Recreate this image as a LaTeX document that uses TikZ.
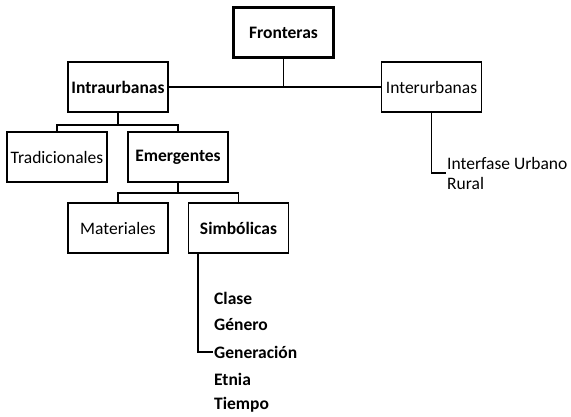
\documentclass[tikz,border=0pt]{standalone}
\usepackage{fontspec}
\setmainfont{Carlito}
\usepackage{tikz}
\usetikzlibrary{calc}

\begin{document}
\begin{tikzpicture}[x=1pt,y=-1pt,
    box/.style={draw,line width=1.4pt,minimum width=100pt,minimum height=50pt,inner sep=1pt,font=\fontsize{17.5}{20}\selectfont},
    bbox/.style={box,font=\fontsize{17.5}{20}\selectfont\bfseries},
    item/.style={anchor=west,inner sep=1pt,font=\fontsize{17.5}{20}\selectfont\bfseries},
    link/.style={line width=1.7pt}]
    \useasboundingbox (0,0) rectangle (571,417);

    % Top level
    \node[bbox,line width=2.8pt] (front) at (283.5,32.5) {Fronteras};
    \node[bbox] (intra) at (118,87) {Intraurbanas};
    \node[box] (inter) at (431.5,87) {Interurbanas};

    % Second level
    \node[box] (trad) at (57,157) {Tradicionales};
    \node[bbox] (emerg) at (178,157) {Emergentes};
    \node[box] (mat) at (118,228) {Materiales};
    \node[bbox] (simb) at (238.5,228) {Simbólicas};

    % Interfase
    \node[anchor=west,align=left,inner sep=1pt,font=\fontsize{17.5}{20}\selectfont] (interf) at (446,173) {Interfase Urbano\\Rural};

    % List under Simbolicas
    \node[item] (clase) at (213,298) {Clase};
    \node[item] (gen) at (213,325) {Género};
    \node[item] (gener) at (213,352) {Generación};
    \node[item] (etnia) at (213,379) {Etnia};
    \node[item] (tiempo) at (213,405) {Tiempo};

    % Connectors
    \draw[link] (intra.east) -- (inter.west);
    \draw[link] (front.south) -- (front.south |- intra.east);
    \draw[link] (intra.south) -- ++(0,12) coordinate (b1);
    \draw[link] (trad.north) |- (b1) -| (emerg.north);
    \draw[link] (emerg.south) -- ++(0,10) coordinate (b2);
    \draw[link] (mat.north) |- (b2) -| (simb.north);
    \draw[link] (inter.south) |- (interf.west);
    \draw[link] ($(simb.south west)+(10,0)$) |- (gener.west);
\end{tikzpicture}
\end{document}
